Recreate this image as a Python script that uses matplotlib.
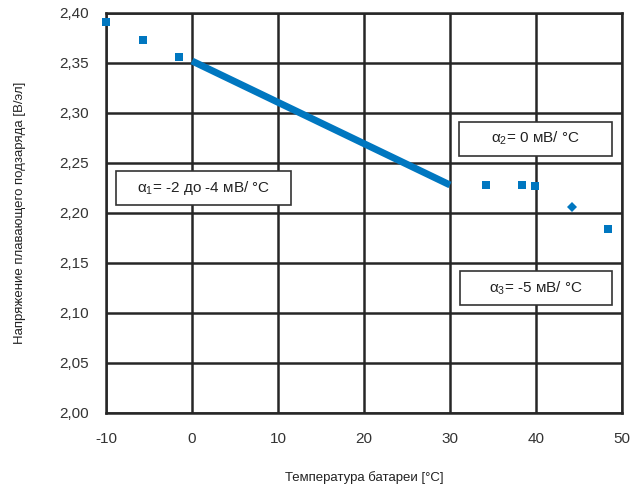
import matplotlib
matplotlib.use("Agg")
import matplotlib.pyplot as plt
from matplotlib.patches import Rectangle

# measured points (temperature °C, float voltage V/cell)
sq_temp = [-10.0, -5.7, -1.5, 34.2, 38.4, 39.9, 48.4]
sq_volt = [2.391, 2.373, 2.356, 2.228, 2.228, 2.227, 2.184]
dia_temp = [44.2]
dia_volt = [2.206]
# compensation line
line_temp = [0, 30]
line_volt = [2.352, 2.228]

x_ticks = [-10, 0, 10, 20, 30, 40, 50]
y_ticks = [2.00, 2.05, 2.10, 2.15, 2.20, 2.25, 2.30, 2.35, 2.40]

labels = [
    r"$\mathregular{\alpha_1}$= -2 до -4 мВ/ °C",
    r"$\mathregular{\alpha_2}$= 0 мВ/ °C",
    r"$\mathregular{\alpha_3}$= -5 мВ/ °C",
]

plt.rcParams["font.family"] = ["Liberation Sans Narrow", "Liberation Sans", "DejaVu Sans"]
plt.rcParams["mathtext.fontset"] = "custom"
plt.rcParams["mathtext.rm"] = "Liberation Sans"
plt.rcParams["axes.unicode_minus"] = False

blue = "#0077c0"
grid = "#262626"

fig = plt.figure(figsize=(6.32, 4.88), dpi=100)
ax = fig.add_axes([0.1677, 0.1537, 0.8165, 0.8197])

ax.plot(line_temp, line_volt, color=blue, lw=5, solid_capstyle="butt", zorder=3)
ax.plot(sq_temp, sq_volt, "s", color=blue, ms=5.5, mew=0, zorder=4, clip_on=False)
ax.plot(dia_temp, dia_volt, "D", color=blue, ms=5.5, mew=0, zorder=4)

ax.set_xlim(-10, 50)
ax.set_ylim(2.0, 2.4)
ax.set_xticks(x_ticks)
ax.set_yticks(y_ticks)
ax.set_yticklabels([f"{v:.2f}".replace(".", ",") for v in y_ticks])
ax.grid(True, color=grid, lw=1.8)
ax.set_axisbelow(True)
for s in ax.spines.values():
    s.set_color(grid)
    s.set_linewidth(1.8)
ax.tick_params(length=0, labelsize=11, labelcolor="#333333")
ax.tick_params(axis="x", pad=14)
ax.tick_params(axis="y", pad=12)
for lab in ax.get_xticklabels() + ax.get_yticklabels():
    lab.set_family(["Liberation Sans", "DejaVu Sans"])

ax.set_xlabel("Температура батареи [°C]", fontsize=9.5, color="#222222", labelpad=18)
ax.set_ylabel("Напряжение плавающего подзаряда [В/эл]", fontsize=9.5, color="#222222", labelpad=24)

boxes = [(0.019, 0.520, 0.340, 0.086),
         (0.684, 0.643, 0.296, 0.085),
         (0.687, 0.270, 0.294, 0.085)]
for (x0, y0, w, h), txt in zip(boxes, labels):
    ax.add_patch(Rectangle((x0, y0), w, h, transform=ax.transAxes,
                           facecolor="white", edgecolor="#333333", lw=1.2, zorder=5))
    ax.text(x0 + w / 2, y0 + h / 2, txt, transform=ax.transAxes, ha="center",
            va="center", fontsize=11, color="#222222", zorder=6)

fig.savefig("out.png", dpi=100)
